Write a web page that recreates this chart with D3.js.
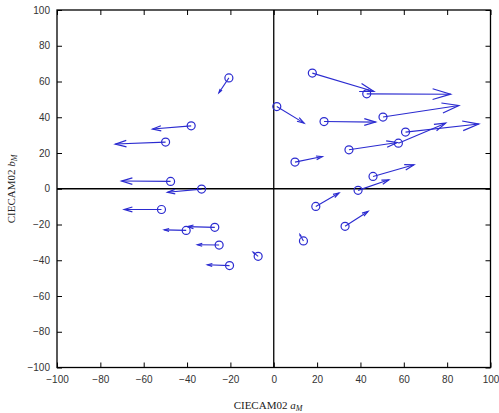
<!DOCTYPE html>
<html><head><meta charset="utf-8">
<script src="https://cdn.jsdelivr.net/npm/d3@7"></script>
<style>body{margin:0;background:#fff}</style>
</head><body>
<svg id="c" width="499" height="413"></svg>
<script>
// circle positions (start) and arrow tips (end)
const startA = [-20.7,-38.1,-49.9,-47.6,-33.3,-51.8,-27.2,-40.4,-25.2,-20.4,-7.2, 13.7,32.9,19.4,38.9,45.8, 9.8,34.7,57.5,60.8,50.4,23.2, 1.4,17.8,42.9];
const startB = [ 62.0, 35.2, 26.1,  4.1, -0.2,-11.6,-21.6,-23.3,-31.5,-43.0,-37.8,-29.2,-21.0,-9.9,-0.9, 6.9,14.9,21.8,25.5,31.7,40.1,37.6,46.0,64.7,53.1];
const endA   = [-25.3,-55.9,-73.1,-70.2,-49.0,-69.0,-39.8,-50.5,-35.2,-30.6,-9.5, 12.1,43.5,30.1,53.1,64.7,22.4,57.0,79.3,94.6,85.4,47.0,14.0,46.2,81.6];
const endB   = [ 53.7, 33.4, 25.0,  4.3, -2.0,-11.6,-21.2,-23.0,-31.3,-42.5,-35.5,-25.7,-12.7,-2.4, 5.0,13.4,18.0,25.9,36.7,36.2,46.6,37.3,36.7,54.4,52.9];
const xTicks = [-100,-80,-60,-40,-20,0,20,40,60,80,100];
const yTicks = [-100,-80,-60,-40,-20,0,20,40,60,80,100];

const svg = d3.select("#c");
const L=57, R=490.5, T=10, B=367.5;
const x = d3.scaleLinear().domain([-100,100]).range([L,R]);
const y = d3.scaleLinear().domain([-100,100]).range([B,T]);
const col = "#2b2bd0";
const tickFont = "'Liberation Sans', Arial, sans-serif";

// zero lines
svg.append("line").attr("x1",L).attr("x2",R).attr("y1",y(0)).attr("y2",y(0)).attr("stroke","#000").attr("stroke-width",1.3);
svg.append("line").attr("x1",x(0)).attr("x2",x(0)).attr("y1",T).attr("y2",B).attr("stroke","#000").attr("stroke-width",1.3);

// axes with inward ticks
const ax = (g, axis) => { g.call(axis); g.select(".domain").remove(); g.selectAll("line").attr("stroke","#000"); };
svg.append("g").attr("transform",`translate(0,${B})`)
  .call(g=>ax(g,d3.axisBottom(x).tickValues(xTicks).tickSizeInner(-5).tickSizeOuter(0).tickPadding(8)))
  .selectAll("text").attr("font-family",tickFont).attr("font-size",10).attr("fill","#333");
svg.append("g").attr("transform",`translate(0,${T})`)
  .call(g=>ax(g,d3.axisTop(x).tickValues(xTicks).tickSizeInner(-5).tickSizeOuter(0).tickFormat("")));
svg.append("g").attr("transform",`translate(${L},0)`)
  .call(g=>ax(g,d3.axisLeft(y).tickValues(yTicks).tickSizeInner(-5).tickSizeOuter(0).tickPadding(7)))
  .selectAll("text").attr("font-family",tickFont).attr("font-size",10).attr("fill","#333");
svg.append("g").attr("transform",`translate(${R},0)`)
  .call(g=>ax(g,d3.axisRight(y).tickValues(yTicks).tickSizeInner(-5).tickSizeOuter(0).tickFormat("")));
svg.append("rect").attr("x",L).attr("y",T).attr("width",R-L).attr("height",B-T)
  .attr("fill","none").attr("stroke","#000").attr("stroke-width",1.3);

// arrows
const data = startA.map((a,i)=>({a, b:startB[i], ea:endA[i], eb:endB[i]}));
const g = svg.append("g");
data.forEach(d=>{
  const x0=x(d.a), y0=y(d.b), x1=x(d.ea), y1=y(d.eb);
  const dx=x1-x0, dy=y1-y0, len=Math.hypot(dx,dy);
  const ux=dx/len, uy=dy/len;
  const hl=Math.min(0.22*len, 18), hw=hl*0.3;
  g.append("line").attr("x1",x0).attr("y1",y0).attr("x2",x1).attr("y2",y1)
    .attr("stroke",col).attr("stroke-width",1.1);
  const bx=x1-ux*hl, by=y1-uy*hl;
  g.append("path").attr("d",`M${bx-uy*hw},${by+ux*hw}L${x1},${y1}L${bx+uy*hw},${by-ux*hw}`)
    .attr("fill","none").attr("stroke",col).attr("stroke-width",1.2);
});
g.selectAll("circle").data(data).join("circle")
  .attr("cx",d=>x(d.a)).attr("cy",d=>y(d.b)).attr("r",4)
  .attr("fill","none").attr("stroke",col).attr("stroke-width",1.2);

// labels
const xl = svg.append("text").attr("x",268).attr("y",409).attr("text-anchor","middle")
  .attr("font-family","'Liberation Serif', 'Times New Roman', serif").attr("font-size",11).attr("fill","#222");
xl.append("tspan").text("CIECAM02 ");
xl.append("tspan").attr("font-style","italic").text("a");
xl.append("tspan").attr("font-style","italic").attr("font-size",8).attr("dy",2).text("M");
const yl = svg.append("text").attr("transform","translate(15,189) rotate(-90)").attr("text-anchor","middle")
  .attr("font-family","'Liberation Serif', 'Times New Roman', serif").attr("font-size",11).attr("fill","#222");
yl.append("tspan").text("CIECAM02 ");
yl.append("tspan").attr("font-style","italic").text("b");
yl.append("tspan").attr("font-style","italic").attr("font-size",8).attr("dy",2).text("M");
</script>
</body></html>
